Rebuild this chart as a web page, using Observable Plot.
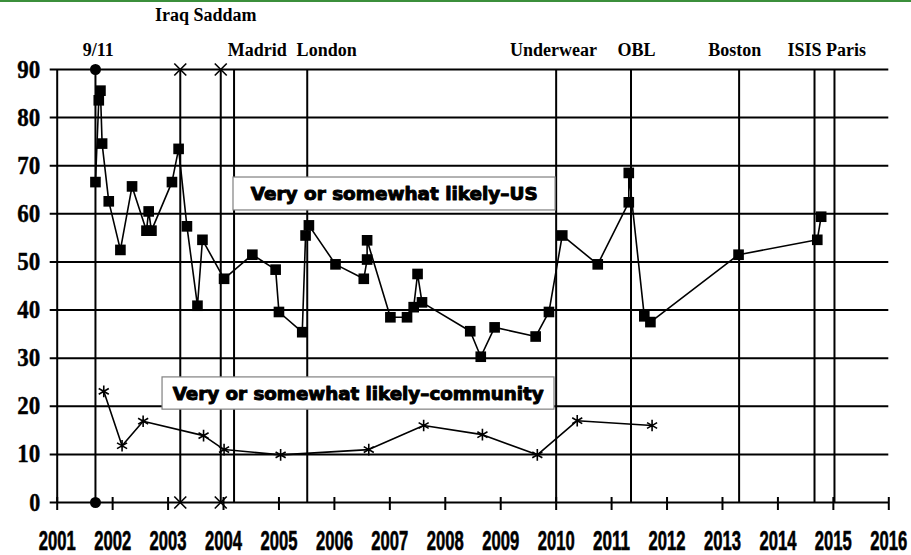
<!DOCTYPE html>
<html><head><meta charset="utf-8">
<script src="https://cdn.jsdelivr.net/npm/d3@7"></script>
<script src="https://cdn.jsdelivr.net/npm/@observablehq/plot@0.6"></script>
<style>
body{margin:0;background:#fff;}
#wrap{position:relative;width:911px;height:555px;}
#topline{position:absolute;left:0;top:0;width:911px;height:2px;background:#3b8f3b;}
</style></head><body>
<div id="wrap"><div id="chart"></div><div id="topline"></div></div>
<script>
// Very or somewhat likely — US (squares)
const usYears = [2001.69,2001.75,2001.78,2001.81,2001.93,2002.14,2002.35,2002.61,2002.65,2002.70,
  2003.07,2003.19,2003.34,2003.53,2003.62,2004.01,2004.52,2004.94,2005.00,2005.42,2005.48,2005.54,
  2006.02,2006.53,2006.59,2006.59,2007.01,2007.31,2007.43,2007.50,2007.58,2008.45,2008.64,2008.89,
  2009.63,2009.87,2010.11,2010.75,2011.31,2011.31,2011.59,2011.70,2013.29,2014.71,2014.78];
const usValues = [66.6,83.6,85.6,74.6,62.6,52.5,65.7,56.5,60.5,56.5,
  66.6,73.5,57.4,40.9,54.6,46.5,51.5,48.4,39.6,35.4,55.5,57.6,
  49.5,46.5,50.5,54.5,38.5,38.5,40.6,47.5,41.6,35.6,30.3,36.4,
  34.5,39.6,55.5,49.5,62.4,68.5,38.7,37.5,51.5,54.6,59.4];
// Very or somewhat likely — community (asterisks)
const communityYears = [2001.84,2002.17,2002.55,2003.64,2004.01,2005.03,2006.62,2007.61,2008.67,2009.66,2010.38,2011.73];
const communityValues = [23.1,11.8,16.9,13.9,11.0,9.9,11.0,16.0,14.1,9.9,17.0,16.0];
// Events (vertical lines)
const eventNames = ["9/11","Iraq","Saddam","Madrid","London","Underwear","OBL","Boston","ISIS","Paris"];
const eventYears = [2001.69,2003.22,2003.95,2004.19,2005.51,2010.0,2011.35,2013.30,2014.66,2015.02];
const circleEventYears = [2001.69];
const starEventYears = [2003.22,2003.95];
const eventEnds = [0,90];
// Event labels
const labelTexts = ["9/11","Madrid","London","Underwear","OBL","Boston","ISIS Paris"];
const labelYears = [2001.74,2004.61,2005.86,2009.95,2011.45,2013.22,2014.88];
const upperLabelTexts = ["Iraq Saddam"];
const upperLabelYears = [2003.68];
// Axes
const yTicks = [0,10,20,30,40,50,60,70,80,90];
const xTicks = d3.range(2001,2017);
const seriesLabels = ["Very or somewhat likely\u2013US","Very or somewhat likely\u2013community"];

const us = usYears.map((x,i)=>({x, y: usValues[i]}));
const comm = communityYears.map((x,i)=>({x, y: communityValues[i]}));
const circ = circleEventYears.flatMap(x=>eventEnds.map(y=>({x,y})));
const star = starEventYears.flatMap(x=>eventEnds.map(y=>({x,y})));

const serif = "'Liberation Serif','Times New Roman',serif";
const heavy = "'DejaVu Sans', sans-serif";

const chart = Plot.plot({
  width: 911, height: 555,
  marginLeft: 56.7, marginRight: 22.7, marginTop: 69, marginBottom: 53,
  x: {domain: [2001, 2016], axis: null},
  y: {domain: [0, 90], axis: null},
  style: {background: "white", overflow: "visible"},
  marks: [
    Plot.ruleY(yTicks, {stroke: "black", strokeWidth: 2, insetLeft: -7}),
    Plot.ruleX([2001], {y1: 0, y2: 90, stroke: "black", strokeWidth: 2}),
    Plot.ruleX(xTicks, {x: d=>d, y1: 0, y2: 0, insetTop: -5, insetBottom: -8, stroke: "black", strokeWidth: 2}),
    Plot.ruleX(eventYears, {x: d=>d, y1: 0, y2: 90, stroke: "black", strokeWidth: 2}),
    // annotation boxes
    Plot.rect([seriesLabels[0]], {x1: 2004.18, x2: 2009.99, y1: 60.7, y2: 67.55, fill: "white", stroke: "#808080", strokeWidth: 1.2}),
    Plot.rect([seriesLabels[1]], {x1: 2002.90, x2: 2009.97, y1: 19.3, y2: 26.0, fill: "white", stroke: "#808080", strokeWidth: 1.2}),
    Plot.text([seriesLabels[0]], {x: 2007.08, y: 64.1, text: d=>d, fontSize: 18, fontWeight: "bold", fontFamily: heavy, fill: "black", stroke: "black", strokeWidth: 1}),
    Plot.text([seriesLabels[1]], {x: 2006.43, y: 22.6, text: d=>d, fontSize: 18, fontWeight: "bold", fontFamily: heavy, fill: "black", stroke: "black", strokeWidth: 1}),
    // series
    Plot.line(us, {x: "x", y: "y", stroke: "black", strokeWidth: 1.6}),
    Plot.dot(us, {x: "x", y: "y", symbol: "square", r: 6, fill: "black", stroke: "none"}),
    Plot.line(comm, {x: "x", y: "y", stroke: "black", strokeWidth: 1.6}),
    Plot.dot(comm, {x: "x", y: "y", symbol: "asterisk", r: 5.5, stroke: "black", strokeWidth: 1.6}),
    Plot.dot(circ, {x: "x", y: "y", symbol: "circle", r: 5.5, fill: "black", stroke: "none"}),
    Plot.dot(star, {x: "x", y: "y", symbol: "times", r: 5.5, stroke: "black", strokeWidth: 1.6}),
    // y labels
    Plot.text(yTicks, {x: 2001, y: d=>d, text: d=>String(d), textAnchor: "end", dx: -17, fontSize: 25, fontWeight: "bold", fontFamily: serif, fill: "black", stroke: "black", strokeWidth: 0.4}),
    // x labels
    Plot.text(xTicks, {x: d=>d, y: 0, text: d=>String(d), dy: 39, fontSize: 27, fontWeight: "bold", fontFamily: "'Liberation Sans', Arial, sans-serif", fill: "black", stroke: "black", strokeWidth: 0.6}),
    // event labels
    Plot.text(labelTexts, {x: (d,i)=>labelYears[i], y: 90, text: d=>d, dy: -19, fontSize: 18, fontWeight: "bold", fontFamily: serif, fill: "black"}),
    Plot.text(upperLabelTexts, {x: (d,i)=>upperLabelYears[i], y: 90, text: d=>d, dy: -54, fontSize: 18, fontWeight: "bold", fontFamily: serif, fill: "black"})
  ]
});
document.getElementById("chart").appendChild(chart);
const xSet = new Set(xTicks.map(String));
const ySet = new Set(yTicks.map(String));
chart.querySelectorAll("text").forEach(t=>{
  const s = t.textContent;
  if (xSet.has(s)) {
    const w = t.getComputedTextLength();
    const k = w > 0 ? 37 / w : 0.62;
    t.setAttribute("transform", (t.getAttribute("transform") || "") + ` scale(${k.toFixed(3)},1)`);
    return;
  }
  let len = null;
  if (ySet.has(s)) len = s.length === 1 ? 11 : 23;
  else if (s === seriesLabels[0]) len = 287;
  else if (s === seriesLabels[1]) len = 371;
  if (len != null) { t.setAttribute("textLength", len); t.setAttribute("lengthAdjust", "spacingAndGlyphs"); }
});
</script>
</body></html>
